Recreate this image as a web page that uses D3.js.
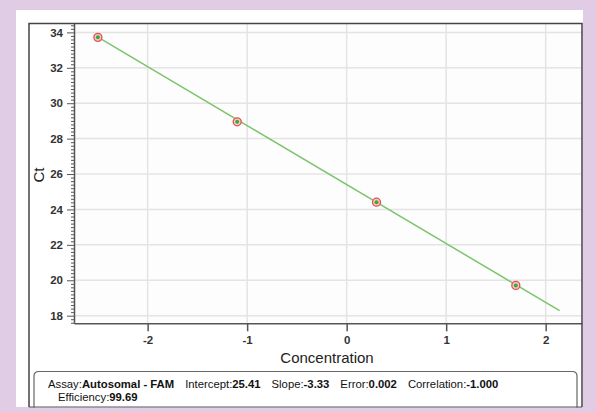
<!DOCTYPE html>
<html>
<head>
<meta charset="utf-8">
<script src="https://cdn.jsdelivr.net/npm/d3@7"></script>
<style>
    body { margin: 0; background: #e0cce4; }
    svg { display: block; font-family: "Liberation Sans", Arial, sans-serif; }
    .axis path, .axis line { stroke: #555; }
    .axis text { fill: #333; font-size: 11.5px; font-weight: bold; }
</style>
</head>
<body>
<script>
// standard curve points (log concentration vs Ct)
let concentration = [-2.5, -1.1, 0.3, 1.7];
let ct = [33.72, 28.95, 24.41, 19.71];

// fitted line end points
let fitX = [-2.5, 2.14];
let fitY = [33.73, 18.28];

let xTicks = [-2, -1, 0, 1, 2];
let yTicks = [18, 20, 22, 24, 26, 28, 30, 32, 34];

let summary = [
    ["Assay:", "Autosomal - FAM"],
    ["Intercept:", "25.41"],
    ["Slope:", "-3.33"],
    ["Error:", "0.002"],
    ["Correlation:", "-1.000"]
];
let summary2 = [["Efficiency:", "99.69"]];

let W = 596, H = 412;

let svg = d3.select("body")
    .append("svg")
    .attr("width", W)
    .attr("height", H);

// purple backdrop + white panel
svg.append("rect").attr("width", W).attr("height", H).attr("fill", "#e0cce4");
svg.append("rect")
    .attr("x", 16).attr("y", 10)
    .attr("width", 567).attr("height", 397)
    .attr("fill", "#ffffff");

let plot = {left: 74, right: 582, top: 23, bottom: 323.3};

let x = d3.scaleLinear()
    .domain([-2.74, 2.365])
    .range([plot.left, plot.right]);

let y = d3.scaleLinear()
    .domain([17.57, 34.53])
    .range([plot.bottom, plot.top]);

// plot background
svg.append("rect")
    .attr("x", plot.left).attr("y", plot.top)
    .attr("width", plot.right - plot.left).attr("height", plot.bottom - plot.top)
    .attr("fill", "#fdfdfd");

// grid
svg.append("g")
    .selectAll("line")
    .data(yTicks)
    .enter()
    .append("line")
    .attr("x1", plot.left).attr("x2", plot.right)
    .attr("y1", d => y(d)).attr("y2", d => y(d))
    .attr("stroke", "#e4e4e4")
    .attr("stroke-width", 1.5);

svg.append("g")
    .selectAll("line")
    .data(xTicks)
    .enter()
    .append("line")
    .attr("x1", d => x(d)).attr("x2", d => x(d))
    .attr("y1", plot.top).attr("y2", plot.bottom)
    .attr("stroke", "#e4e4e4")
    .attr("stroke-width", 1.5);

// y minor ticks
let minor = d3.range(176, 346, 2).map(d => d / 10).filter(d => d % 2 !== 0);
svg.append("g")
    .attr("transform", "translate(" + plot.left + ",0)")
    .attr("class", "axis")
    .call(d3.axisLeft(y).tickValues(minor).tickSize(3).tickFormat(""))
    .call(g => g.select(".domain").remove());

// y axis
svg.append("g")
    .attr("transform", "translate(" + plot.left + ",0)")
    .attr("class", "axis")
    .call(d3.axisLeft(y).tickValues(yTicks).tickSize(7).tickSizeOuter(0).tickPadding(4)
        .tickFormat(d => String(d)))
    .call(g => g.select(".domain").attr("stroke-width", 1.5));

// x axis
svg.append("g")
    .attr("transform", "translate(0," + plot.bottom + ")")
    .attr("class", "axis")
    .call(d3.axisBottom(x).tickValues(xTicks).tickSize(8).tickSizeOuter(0).tickPadding(5)
        .tickFormat(d => String(d)))
    .call(g => g.select(".domain").attr("stroke-width", 1.5))
    .call(g => g.selectAll(".tick line").attr("stroke-width", 1.5));

// axis titles
svg.append("text")
    .attr("x", 327).attr("y", 363)
    .attr("text-anchor", "middle")
    .attr("font-size", "15px")
    .attr("fill", "#222")
    .text("Concentration");

svg.append("text")
    .attr("transform", "translate(44,175) rotate(-90)")
    .attr("text-anchor", "middle")
    .attr("font-size", "15px")
    .attr("fill", "#222")
    .text("Ct");

// fit line
svg.append("line")
    .attr("x1", x(fitX[0])).attr("y1", y(fitY[0]))
    .attr("x2", x(fitX[1])).attr("y2", y(fitY[1]))
    .attr("stroke", "#7cc46c")
    .attr("stroke-width", 1.5);

// points
let pts = svg.append("g")
    .selectAll("g")
    .data(concentration)
    .enter()
    .append("g")
    .attr("transform", (d, i) => "translate(" + x(d) + "," + y(ct[i]) + ")");

pts.append("circle")
    .attr("r", 4)
    .attr("fill", "#f6c9c9")
    .attr("stroke", "#e0504f")
    .attr("stroke-width", 1.3);

pts.append("circle")
    .attr("r", 2)
    .attr("fill", "#3aaa3c");

// outer frame
svg.append("path")
    .attr("d", "M29,407 L29,23.5 L582,23.5 L582,407")
    .attr("fill", "none")
    .attr("stroke", "#444")
    .attr("stroke-width", 1.5);

// summary box
svg.append("path")
    .attr("d", "M34,412 L34,376 Q34,371.5 39,371.5 L572,371.5 Q577,371.5 577,376 L577,412")
    .attr("fill", "#fff")
    .attr("stroke", "#666")
    .attr("stroke-width", 1.2);

const addLine = (items, x0, yb) => {
    let t = svg.append("text")
        .attr("x", x0).attr("y", yb)
        .attr("font-size", "11.3px")
        .attr("fill", "#111");
    items.forEach((it, i) => {
        t.append("tspan")
            .attr("dx", i === 0 ? 0 : 11)
            .text(it[0]);
        t.append("tspan")
            .attr("font-weight", "bold")
            .text(it[1]);
    });
};
addLine(summary, 48, 388);
addLine(summary2, 58, 401);

// bottom of panel
svg.append("rect")
    .attr("x", 0).attr("y", 407.5)
    .attr("width", W).attr("height", 5)
    .attr("fill", "#e0cce4");
svg.append("line")
    .attr("x1", 29).attr("x2", 582)
    .attr("y1", 407).attr("y2", 407)
    .attr("stroke", "#555");
</script>
</body>
</html>
